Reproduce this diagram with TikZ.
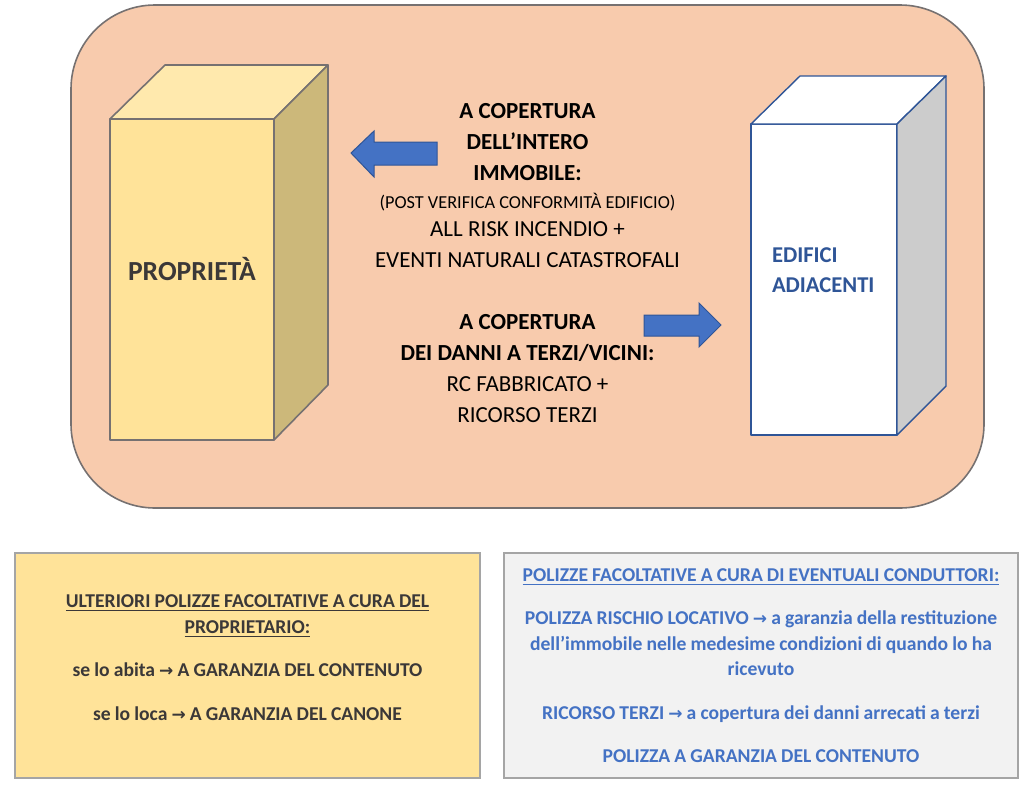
\documentclass[tikz,border=0pt]{standalone}
\usepackage{amssymb,amsmath}
\usepackage{fontspec}
\setmainfont{Carlito}
\newfontfamily\arrowfont{DejaVu Sans}
\newcommand{\rarrow}{{\arrowfont\fontsize{17}{17}\selectfont →}}

\definecolor{rosefill}{HTML}{F8CBAD}
\definecolor{edgegray}{HTML}{767171}
\definecolor{boxgray}{HTML}{A5A5A5}
\definecolor{propfront}{HTML}{FFE399}
\definecolor{proptop}{HTML}{FFE9AD}
\definecolor{propside}{HTML}{CCB87A}
\definecolor{adjblue}{HTML}{2F5597}
\definecolor{adjside}{HTML}{CCCCCC}
\definecolor{arrowblue}{HTML}{4472C4}
\definecolor{darktext}{HTML}{3B3838}
\definecolor{lightbox}{HTML}{F2F2F2}

\tikzset{
  propface/.style={draw=edgegray, line width=1.6pt, line join=round},
  adjface/.style={draw=adjblue, line width=1.4pt, line join=round},
  bluearrow/.style={draw=adjblue, line width=1pt, fill=arrowblue, line join=miter},
  bottombox/.style={rectangle, draw=boxgray, line width=2pt, outer sep=0pt, align=center, font=\fontsize{19.6}{25.5}\selectfont\bfseries, execute at begin node={\spaceskip=0.21em\relax}},
  midtext/.style={align=center, text=black, font=\fontsize{23}{31}\selectfont}
}

\begin{document}
\begin{tikzpicture}[x=1pt, y=-1pt]
  \useasboundingbox (0,0) rectangle (1030,787);

  % outer rounded panel
  \node[rectangle, rounded corners=84pt, draw=edgegray, line width=1.6pt, fill=rosefill, minimum width=913pt, minimum height=503pt]
       (panel) at (527.5,256.5) {};

  % owner block
  \coordinate (propa) at (165,65);
  \coordinate (propb) at (328,65);
  \coordinate (propc) at (328,385);
  \node[rectangle, propface, fill=propfront, outer sep=0pt, minimum width=164pt, minimum height=321pt, text=darktext, align=center, font=\fontsize{27.6}{30}\selectfont\bfseries]
       (prop) at (192,279.5) {PROPRIETÀ\\[-8pt]\mbox{}};
  \draw[propface, fill=proptop] (prop.north west) -- (propa) -- (propb) -- (prop.north east) -- cycle;
  \draw[propface, fill=propside] (prop.north east) -- (propb) -- (propc) -- (prop.south east) -- cycle;

  % neighbouring block
  \coordinate (adja) at (800,76);
  \coordinate (adjb) at (946,76);
  \coordinate (adjc) at (946,386);
  \node[rectangle, adjface, fill=white, outer sep=0pt, minimum width=146pt, minimum height=311pt, text=adjblue, align=left, text width=104pt, font=\fontsize{22.6}{30}\selectfont\bfseries]
       (adj) at (824,279.5) {EDIFICI\\ADIACENTI\\[-12pt]\mbox{}};
  \draw[adjface, fill=white] (adj.north west) -- (adja) -- (adjb) -- (adj.north east) -- cycle;
  \draw[adjface, fill=adjside] (adj.north east) -- (adjb) -- (adjc) -- (adj.south east) -- cycle;

  % arrows
  \draw[bluearrow] (351,153) -- (374,131) -- (374,142) -- (437,142) -- (437,165) -- (374,165) -- (374,177) -- cycle;
  \draw[bluearrow] (721,325) -- (699,303) -- (699,315) -- (644,315) -- (644,336) -- (699,336) -- (699,347) -- cycle;

  % middle texts
  \node[midtext] (whole) at (527.5,186) {\textbf{A COPERTURA}\\\textbf{DELL’INTERO}\\\textbf{IMMOBILE:}\\[-3pt]
    {\fontsize{18.3}{28}\selectfont (POST VERIFICA CONFORMITÀ EDIFICIO)}\\[-3pt]
    ALL RISK INCENDIO +\\EVENTI NATURALI CATASTROFALI};
  \node[midtext] (third) at (527.5,369) {\textbf{A COPERTURA}\\\textbf{DEI DANNI A TERZI/VICINI:}\\RC FABBRICATO +\\RICORSO TERZI};

  % bottom boxes
  \node[bottombox, fill=propfront, text=darktext, minimum width=465pt, minimum height=225pt, text width=440pt]
       (owner) at (247.5,665.5) {\underline{ULTERIORI POLIZZE FACOLTATIVE A CURA DEL}\\\underline{PROPRIETARIO:}\\[18pt]
       se lo abita \rarrow{} A GARANZIA DEL CONTENUTO\\[18pt]
       se lo loca \rarrow{} A GARANZIA DEL CANONE\\[-9.5pt]\mbox{}};
  \node[bottombox, fill=lightbox, text=arrowblue, minimum width=514pt, minimum height=225pt, text width=505pt]
       (tenant) at (761,665.5) {\underline{POLIZZE FACOLTATIVE A CURA DI EVENTUALI CONDUTTORI:}\\[18pt]
       POLIZZA RISCHIO LOCATIVO \rarrow{} a garanzia della restituzione\\
       dell’immobile nelle medesime condizioni di quando lo ha\\
       ricevuto\\[18pt]
       RICORSO TERZI \rarrow{} a copertura dei danni arrecati a terzi\\[18pt]
       POLIZZA A GARANZIA DEL CONTENUTO};
\end{tikzpicture}
\end{document}
